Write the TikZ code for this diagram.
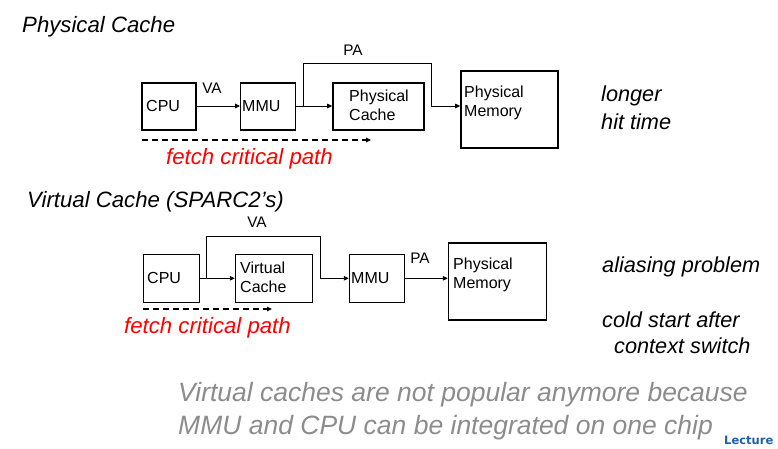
\documentclass[tikz,border=0pt]{standalone}
\usepackage{fontspec}
\setmainfont{Liberation Sans}
\newfontfamily\lectfont{DejaVu Sans}
\usetikzlibrary{arrows.meta}
\definecolor{grayt}{HTML}{8C8C8C}
\definecolor{lectblue}{HTML}{1F5FA8}
\begin{document}
\begin{tikzpicture}[x=1pt,y=-1pt,
  box/.style={draw=black,line width=1.4pt,inner sep=0pt},
  txt/.style={anchor=west,inner sep=0pt,align=left,font=\fontsize{16}{19}\selectfont},
  lbl/.style={inner sep=0pt,font=\fontsize{15.3}{18}\selectfont},
  ttl/.style={anchor=west,inner sep=0pt,font=\fontsize{22.2}{26}\selectfont\itshape},
  side/.style={anchor=west,inner sep=0pt,align=left,font=\fontsize{21.7}{26}\selectfont\itshape},
  red/.style={anchor=west,inner sep=0pt,text=red,font=\fontsize{22.2}{26}\selectfont\itshape},
  arr/.style={line width=0.9pt,-{Triangle[length=5pt,width=4.5pt]}},
  darr/.style={line width=1.1pt,dash pattern=on 6pt off 4pt,-{Triangle[length=5pt,width=4.5pt]}}]
\useasboundingbox (0,0) rectangle (778,448);
% ---------- Physical cache ----------
\node[ttl] (t1) at (22,27) {Physical Cache};
\node[box,minimum width=54pt,minimum height=47pt] (cpu1) at (169,106.5) {};
\node[txt] (cpu1t) at (146,106) {CPU};
\node[box,minimum width=55pt,minimum height=47pt] (mmu1) at (268.2,106.5) {};
\node[txt] (mmu1t) at (242,106) {MMU};
\node[box,minimum width=91pt,minimum height=47pt] (pc1) at (378.4,106.5) {};
\node[txt] (pc1t) at (349,105.5) {Physical\\Cache};
\node[box,minimum width=97pt,minimum height=77pt] (pm1) at (509.4,109.3) {};
\node[txt] (pm1t) at (464,102.5) {Physical\\Memory};
\draw[arr] (cpu1.east |- 0,106) -- (mmu1.west |- 0,106);
\node[lbl] (va1) at (212,88) {VA};
\coordinate (br1) at (303.3,106);
\coordinate (tl1) at (303.3,63.3);
\coordinate (tr1) at (431.7,63.3);
\draw[arr] (mmu1.east |- br1) -- (pc1.west |- br1);
\draw[arr] (br1) -- (tl1) -- (tr1) |- (pm1.west |- br1);
\node[lbl] (pa1) at (353,50) {PA};
\coordinate (d1s) at (142,140);
\coordinate (d1e) at (371,140);
\draw[darr] (d1s) -- (d1e);
\node[red] (f1) at (166,159) {fetch critical path};
\node[side] (s1) at (601,95.5) {longer};
\node[side] (s2) at (601,121.5) {hit time};
% ---------- Virtual cache ----------
\node[ttl] (t2) at (27,202) {Virtual Cache (SPARC2’s)};
\node[box,minimum width=56pt,minimum height=48pt] (cpu2) at (171.2,278.3) {};
\node[txt] (cpu2t) at (147,278) {CPU};
\node[box,minimum width=77pt,minimum height=48pt] (vc2) at (274,278.3) {};
\node[txt] (vc2t) at (240,277.5) {Virtual\\Cache};
\node[box,minimum width=55pt,minimum height=48pt] (mmu2) at (377,278.3) {};
\node[txt] (mmu2t) at (351,278) {MMU};
\node[box,minimum width=98pt,minimum height=77pt] (pm2) at (497.5,281.3) {};
\node[txt] (pm2t) at (453,274.5) {Physical\\Memory};
\coordinate (br2) at (206.7,278.3);
\coordinate (tl2) at (206.7,236.7);
\coordinate (tr2) at (320.7,236.7);
\draw[arr] (cpu2.east |- br2) -- (vc2.west |- br2);
\draw[arr] (br2) -- (tl2) -- (tr2) |- (mmu2.west |- br2);
\node[lbl] (va2) at (257,222) {VA};
\draw[arr] (mmu2.east |- br2) -- (pm2.west |- br2);
\node[lbl] (pa2) at (420,258) {PA};
\coordinate (d2s) at (143,309);
\coordinate (d2e) at (272,309);
\draw[darr] (d2s) -- (d2e);
\node[red] (f2) at (124,328) {fetch critical path};
\node[side] (s3) at (602,266.5) {aliasing problem};
\node[side] (s4) at (602,319.5) {cold start after};
\node[side] (s5) at (614,345.5) {context switch};
% ---------- bottom ----------
\node[anchor=west,inner sep=0pt,text=grayt,font=\fontsize{26.5}{30}\selectfont\itshape] (b1) at (178,395) {Virtual caches are not popular anymore because};
\node[anchor=west,inner sep=0pt,text=grayt,font=\fontsize{26.5}{30}\selectfont\itshape] (b2) at (178,428) {MMU and CPU can be integrated on one chip};
\node[anchor=west,inner sep=0pt,text=lectblue,font=\lectfont\bfseries\fontsize{11.5}{13}\selectfont] (lec) at (724,440) {Lecture};
\end{tikzpicture}
\end{document}
